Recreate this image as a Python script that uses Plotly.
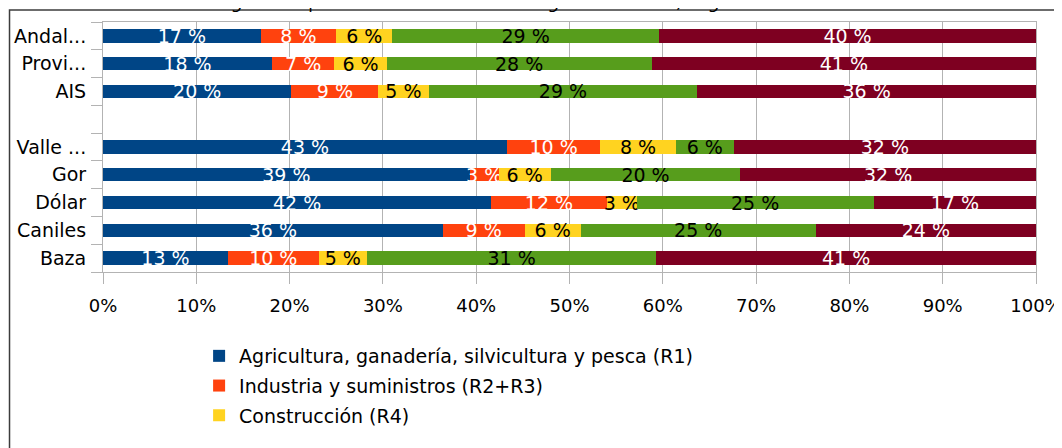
import plotly.graph_objects as go

# Categories (bottom -> top); " " is the empty spacer row
categories = ["Baza", "Caniles", "Dólar", "Gor", "Valle ...", " ", "AIS", "Provi...", "Andal..."]
bar_categories = ["Baza", "Caniles", "Dólar", "Gor", "Valle ...", "AIS", "Provi...", "Andal..."]

# Percent share per sector, aligned with bar_categories
agricultura = [13.4, 36.4, 41.6, 39.3, 43.3, 20.2, 18.1, 16.9]
industria = [9.7, 8.8, 12.4, 3.1, 10.0, 9.3, 6.7, 8.1]
construccion = [5.2, 6.0, 3.2, 5.6, 8.1, 5.4, 5.6, 6.0]
comercio = [31.0, 25.2, 25.4, 20.3, 6.2, 28.8, 28.4, 28.6]
otros_servicios = [40.7, 23.6, 17.4, 31.7, 32.4, 36.3, 41.2, 40.4]

series_names = [
    "Agricultura, ganadería, silvicultura y pesca (R1)",
    "Industria y suministros (R2+R3)",
    "Construcción (R4)",
    "Comercio, transporte y hostelería (R5)",
    "Otros servicios (R6)",
]
series_values = [agricultura, industria, construccion, comercio, otros_servicios]
series_colors = ["#004586", "#ff420e", "#ffd320", "#579d1c", "#7e0021"]
text_colors = ["#ffffff", "#ffffff", "#000000", "#000000", "#ffffff"]
# the last two legend entries fall below the visible area in the reference
series_legends = ["legend", "legend", "legend", "legend2", "legend2"]

x_ticks = list(range(0, 101, 10))

FONT = "DejaVu Sans"

fig = go.Figure()
for i, (name, vals, col, tcol, lg) in enumerate(
        zip(series_names, series_values, series_colors, text_colors, series_legends)):
    fig.add_trace(go.Bar(
        y=bar_categories, x=vals, name=name, orientation="h",
        legendgroup=f"g{i}", legend=lg,
        marker=dict(color=col, line=dict(width=0)),
        width=0.48,
        texttemplate="%{x:.0f} %",
        textposition="inside",
        insidetextanchor="middle",
        constraintext="none",
        textangle=0,
        insidetextfont=dict(family=FONT, size=19, color=tcol),
        cliponaxis=False,
    ))

legend_style = dict(
    orientation="v", xanchor="left", yanchor="top",
    font=dict(family=FONT, size=19, color="#000000"),
    traceorder="grouped", tracegroupgap=2, bgcolor="rgba(0,0,0,0)",
)

fig.update_layout(
    barmode="stack",
    width=1054, height=440,
    margin=dict(l=95, r=26, t=14, b=176, autoexpand=False),
    paper_bgcolor="white", plot_bgcolor="white",
    font=dict(family=FONT, size=19, color="#000000"),
    title=dict(
        text="Figura 11 | Personas afiliadas a la Seguridad Social, según sector económico",
        font=dict(family=FONT, size=18, style="italic", color="#000000"),
        xref="container", yref="container", x=0.526, xanchor="center",
        y=1.0, yanchor="bottom",
    ),
    xaxis=dict(
        range=[0, 100], tickvals=x_ticks, ticktext=[f"{v}%" for v in x_ticks],
        showgrid=True, gridcolor="#b3b3b3", gridwidth=1,
        showline=True, mirror=True, linecolor="#b3b3b3", linewidth=1,
        ticks="outside", ticklen=11, tickcolor="#b3b3b3",
        ticklabelstandoff=6,
        tickfont=dict(family=FONT, size=18, color="#000000"),
        zeroline=False, fixedrange=True,
    ),
    yaxis=dict(
        type="category", categoryorder="array", categoryarray=categories,
        range=[-0.5, 8.5], tickson="boundaries",
        showgrid=False, showline=True, mirror=True, linecolor="#b3b3b3", linewidth=1,
        ticks="outside", ticklen=11, tickcolor="#b3b3b3",
        ticklabelstandoff=12,
        tickfont=dict(family=FONT, size=19, color="#000000"),
        fixedrange=True,
    ),
    legend=dict(x=0.103, y=-0.26, **legend_style),
    legend2=dict(x=0.103, y=-0.74, **legend_style),
    showlegend=True,
    shapes=[dict(
        type="rect", xref="paper", yref="paper",
        x0=-0.1002, x1=1.3, y0=-1.5, y1=1.048,
        line=dict(color="#3c3c3c", width=1.5), fillcolor="rgba(0,0,0,0)", layer="above",
    )],
)

fig.write_html("out.html")
